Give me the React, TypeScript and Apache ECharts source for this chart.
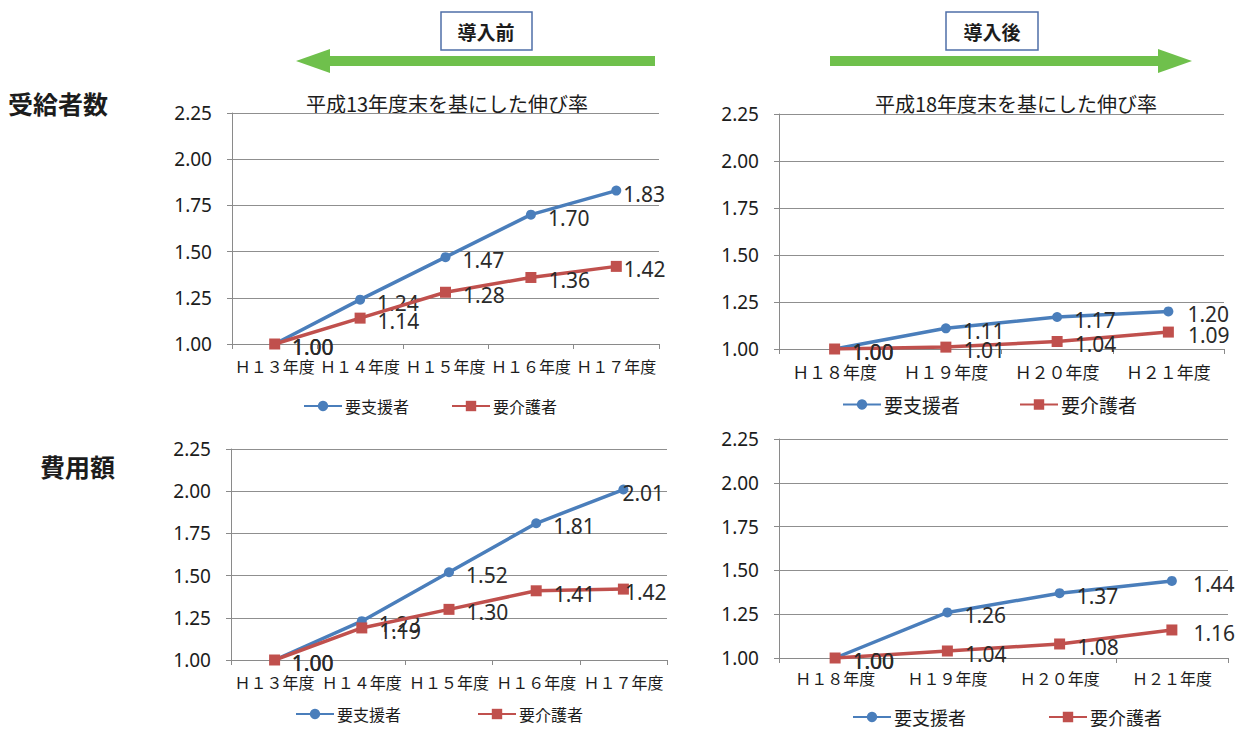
import React, { useEffect, useRef } from "react";
import * as echarts from "echarts";

// ---- data ----
const categoriesBefore = ["Ｈ１３年度", "Ｈ１４年度", "Ｈ１５年度", "Ｈ１６年度", "Ｈ１７年度"];
const categoriesAfter = ["Ｈ１８年度", "Ｈ１９年度", "Ｈ２０年度", "Ｈ２１年度"];
const seriesNames = ["要支援者", "要介護者"];

const recipientsBeforeSupport = [1.0, 1.24, 1.47, 1.7, 1.83];
const recipientsBeforeCare = [1.0, 1.14, 1.28, 1.36, 1.42];
const recipientsAfterSupport = [1.0, 1.11, 1.17, 1.2];
const recipientsAfterCare = [1.0, 1.01, 1.04, 1.09];
const costBeforeSupport = [1.0, 1.23, 1.52, 1.81, 2.01];
const costBeforeCare = [1.0, 1.19, 1.3, 1.41, 1.42];
const costAfterSupport = [1.0, 1.26, 1.37, 1.44];
const costAfterCare = [1.0, 1.04, 1.08, 1.16];

const yMin = 1.0;
const yMax = 2.25;
const yStep = 0.25;

const titleBefore = "平成13年度末を基にした伸び率";
const titleAfter = "平成18年度末を基にした伸び率";
const rowLabels = ["受給者数", "費用額"];
const phaseLabels = ["導入前", "導入後"];

// ---- styles ----
const BLUE = "#4a7ebb";
const RED = "#c0504d";
const GREEN = "#6fc04c";
const TEXT = "#1c1c1c";
const CJK = '"Noto Sans CJK JP", "Noto Sans", sans-serif';
const NUM = '"Noto Sans", "Noto Sans CJK JP", sans-serif';

const grids = [
  { left: 232, top: 113, width: 427, height: 231 },
  { left: 779, top: 114, width: 445, height: 235 },
  { left: 231, top: 449, width: 436, height: 211 },
  { left: 779, top: 439, width: 449, height: 219 },
];

const xFont = [16, 17, 16, 16];
const xMargin = [14, 14, 14, 12];

const legends = [
  { left: 303, top: 397, itemGap: 42, fontSize: 16 },
  { left: 842, top: 394, itemGap: 59, fontSize: 19 },
  { left: 295, top: 705, itemGap: 76, fontSize: 16 },
  { left: 852, top: 707, itemGap: 82, fontSize: 18 },
];

const panels = [
  { cats: categoriesBefore, support: recipientsBeforeSupport, care: recipientsBeforeCare, lastDist: [2, 2] },
  { cats: categoriesAfter, support: recipientsAfterSupport, care: recipientsAfterCare, lastDist: [14, 14] },
  { cats: categoriesBefore, support: costBeforeSupport, care: costBeforeCare, lastDist: [-6, -4] },
  { cats: categoriesAfter, support: costAfterSupport, care: costAfterCare, lastDist: [16, 16] },
];

function makeData(values: number[], lastDist: number) {
  return values.map((v, i) =>
    i === values.length - 1 ? { value: v, label: { distance: lastDist } } : { value: v }
  );
}

export default function App() {
  const ref = useRef<HTMLDivElement>(null);

  useEffect(() => {
    if (!ref.current) return;
    const chart = echarts.init(ref.current, undefined, { renderer: "svg" });

    const xAxis: any[] = [];
    const yAxis: any[] = [];
    const series: any[] = [];
    const legend: any[] = [];

    panels.forEach((p, i) => {
      xAxis.push({
        type: "category",
        gridIndex: i,
        data: p.cats,
        boundaryGap: true,
        axisLine: { lineStyle: { color: "#8a8a8a", width: 1 } },
        axisTick: { show: true, length: 5, lineStyle: { color: "#8a8a8a" } },
        axisLabel: {
          interval: 0,
          fontSize: xFont[i],
          fontFamily: CJK,
          color: TEXT,
          margin: xMargin[i],
        },
      });
      yAxis.push({
        type: "value",
        gridIndex: i,
        min: yMin,
        max: yMax,
        interval: yStep,
        axisLine: { show: true, lineStyle: { color: "#8a8a8a", width: 1 } },
        axisTick: { show: true, length: 5, lineStyle: { color: "#8a8a8a" } },
        splitLine: { show: true, lineStyle: { color: "#8f8f8f", width: 1 } },
        axisLabel: {
          fontSize: 19,
          fontFamily: NUM,
          color: TEXT,
          margin: 20,
          formatter: (v: number) => v.toFixed(2),
        },
      });
      const labelBase = {
        show: true,
        position: "right",
        distance: 12,
        offset: [0, 3],
        fontSize: 21,
        fontFamily: NUM,
        color: "#2a2a2a",
        formatter: (q: any) => Number(q.value).toFixed(2),
      };
      series.push({
        name: seriesNames[0],
        type: "line",
        xAxisIndex: i,
        yAxisIndex: i,
        data: makeData(p.support, p.lastDist[0]),
        symbol: "circle",
        symbolSize: 10,
        lineStyle: { color: BLUE, width: 3.5 },
        itemStyle: { color: BLUE },
        label: labelBase,
        z: 3,
      });
      series.push({
        name: seriesNames[1],
        type: "line",
        xAxisIndex: i,
        yAxisIndex: i,
        data: makeData(p.care, p.lastDist[1]),
        symbol: "rect",
        symbolSize: 11,
        lineStyle: { color: RED, width: 3.5 },
        itemStyle: { color: RED },
        label: labelBase,
        z: 4,
      });
      const L = legends[i];
      legend.push({
        data: seriesNames,
        left: L.left,
        top: L.top,
        padding: 0,
        itemGap: L.itemGap,
        itemWidth: 38,
        itemHeight: 13,
        selectedMode: false,
        textStyle: { fontSize: L.fontSize, lineHeight: L.fontSize + 2, fontFamily: CJK, color: TEXT, padding: [0, 0, 0, -2] },
      });
    });

    const graphic: any[] = [
      // row labels
      { type: "text", left: 8, top: 90, style: { text: rowLabels[0], font: `bold 25px ${CJK}`, fill: TEXT } },
      { type: "text", left: 40, top: 453, style: { text: rowLabels[1], font: `bold 25px ${CJK}`, fill: TEXT } },
      // phase boxes
      { type: "rect", shape: { x: 441, y: 12, width: 91, height: 38 }, style: { fill: "#fff", stroke: "#4f6fa8", lineWidth: 1.5 } },
      { type: "text", x: 486, y: 31, style: { text: phaseLabels[0], font: `bold 19px ${CJK}`, fill: TEXT, align: "center", verticalAlign: "middle" } },
      { type: "rect", shape: { x: 946, y: 12, width: 92, height: 38 }, style: { fill: "#fff", stroke: "#4f6fa8", lineWidth: 1.5 } },
      { type: "text", x: 992, y: 31, style: { text: phaseLabels[1], font: `bold 19px ${CJK}`, fill: TEXT, align: "center", verticalAlign: "middle" } },
      // arrows
      { type: "rect", shape: { x: 326, y: 56, width: 329, height: 10 }, style: { fill: GREEN } },
      { type: "polygon", shape: { points: [[296, 61], [330, 49], [330, 73]] }, style: { fill: GREEN } },
      { type: "rect", shape: { x: 830, y: 56, width: 332, height: 10 }, style: { fill: GREEN } },
      { type: "polygon", shape: { points: [[1192, 61], [1158, 49], [1158, 73]] }, style: { fill: GREEN } },
      // chart titles
      { type: "text", x: 447, y: 103, style: { text: titleBefore, font: `20px ${CJK}`, fill: TEXT, align: "center", verticalAlign: "middle" } },
      { type: "text", x: 1016, y: 103, style: { text: titleAfter, font: `20px ${CJK}`, fill: TEXT, align: "center", verticalAlign: "middle" } },
    ];

    chart.setOption({
      animation: false,
      backgroundColor: "#ffffff",
      grid: grids.map((g) => ({ ...g, containLabel: false })),
      xAxis,
      yAxis,
      series,
      legend,
      graphic,
    });

    return () => chart.dispose();
  }, []);

  return (
    <div
      ref={ref}
      style={{ position: "fixed", left: 0, top: 0, width: 1241, height: 730 }}
    />
  );
}
